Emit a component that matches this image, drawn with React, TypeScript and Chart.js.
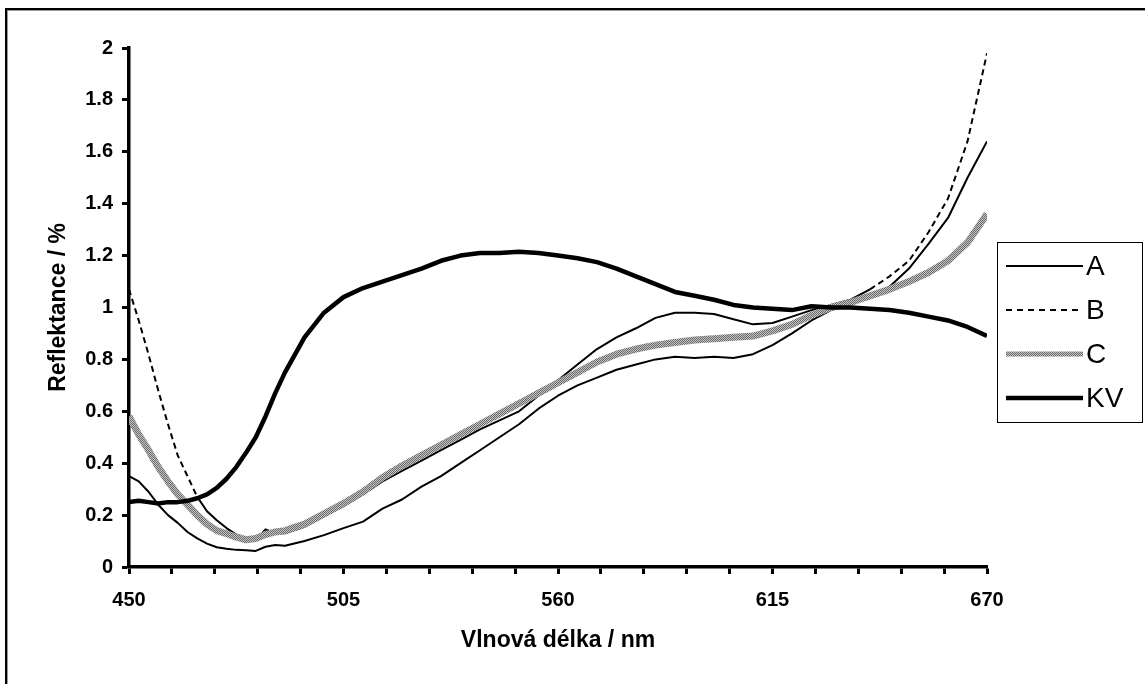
import React, { useEffect, useRef } from 'react';
import { Chart, registerables } from 'chart.js';

Chart.register(...registerables);

// ---- data ----
const WAVELENGTHS = [
  450, 452.5, 455, 457.5, 460, 462.5, 465, 467.5, 470, 472.5, 475, 477.5, 480, 482.5, 485, 487.5, 490,
  495, 500, 505, 510, 515, 520, 525, 530, 535, 540, 545, 550, 555, 560, 565, 570, 575, 580, 585, 590,
  595, 600, 605, 610, 615, 620, 625, 630, 635, 640, 645, 650, 655, 660, 665, 670,
];

const SERIES_A = [
  0.35, 0.33, 0.29, 0.24, 0.2, 0.17, 0.135, 0.11, 0.09, 0.076, 0.07, 0.066, 0.065, 0.062, 0.078, 0.085, 0.082,
  0.1, 0.123, 0.15, 0.175, 0.225, 0.26, 0.31, 0.35, 0.4, 0.45, 0.5, 0.55, 0.61, 0.66, 0.7, 0.73, 0.76, 0.78, 0.8, 0.81,
  0.805, 0.81, 0.805, 0.82, 0.855, 0.9, 0.95, 0.99, 1.01, 1.04, 1.08, 1.15, 1.245, 1.345, 1.5, 1.64,
];

const SERIES_B = [
  1.07, 0.95, 0.82, 0.68, 0.55, 0.43, 0.35, 0.27, 0.215, 0.18, 0.15, 0.125, 0.112, 0.102, 0.145, 0.13, 0.13,
  0.155, 0.195, 0.235, 0.28, 0.33, 0.37, 0.41, 0.45, 0.49, 0.53, 0.565, 0.6, 0.66, 0.72, 0.78, 0.84, 0.885, 0.92, 0.96, 0.98,
  0.98, 0.975, 0.955, 0.935, 0.94, 0.965, 0.99, 1.01, 1.03, 1.07, 1.12, 1.18, 1.29, 1.42, 1.64, 1.98,
];

const SERIES_C = [
  0.58, 0.51, 0.45, 0.385, 0.33, 0.28, 0.24, 0.2, 0.165, 0.14, 0.128, 0.115, 0.105, 0.11, 0.125, 0.135, 0.14,
  0.165, 0.205, 0.245, 0.29, 0.345, 0.39, 0.43, 0.47, 0.51, 0.55, 0.59, 0.63, 0.67, 0.71, 0.75, 0.79, 0.82, 0.84, 0.855, 0.865,
  0.875, 0.88, 0.885, 0.89, 0.91, 0.935, 0.97, 1.0, 1.02, 1.045, 1.07, 1.1, 1.135, 1.18, 1.25, 1.36,
];

const SERIES_KV = [
  0.25, 0.255, 0.25, 0.245, 0.25, 0.25, 0.255, 0.265, 0.28, 0.305, 0.34, 0.385, 0.44, 0.5, 0.58, 0.67, 0.75,
  0.885, 0.98, 1.04, 1.075, 1.1, 1.125, 1.15, 1.18, 1.2, 1.21, 1.21, 1.215, 1.21, 1.2, 1.19, 1.175, 1.15, 1.12, 1.09, 1.06,
  1.045, 1.03, 1.01, 1.0, 0.995, 0.99, 1.005, 1.0, 1.0, 0.995, 0.99, 0.98, 0.965, 0.95, 0.925, 0.89,
];

const SERIES_LABELS = ['A', 'B', 'C', 'KV'];

const X_MIN = 450;
const X_MAX = 670;
const X_MINOR_STEP = 11;
const X_LABEL_STEP = 55;
const Y_MIN = 0;
const Y_MAX = 2;
const Y_STEP = 0.2;

const X_TITLE = 'Vlnová délka / nm';
const Y_TITLE = 'Reflektance / %';

// B looks dashed only where the trace is smooth (start and end)
const B_DASH_BEFORE = 467;
const B_DASH_AFTER = 640;

const FONT = '"Liberation Sans", Arial, Helvetica, sans-serif';

function makeHatch(): CanvasPattern | string {
  const c = document.createElement('canvas');
  c.width = 2;
  c.height = 2;
  const g = c.getContext('2d');
  if (!g) return '#999999';
  g.fillStyle = '#c4c4c4';
  g.fillRect(0, 0, 2, 2);
  g.fillStyle = '#6a6a6a';
  g.fillRect(0, 0, 1, 1);
  g.fillRect(1, 1, 1, 1);
  return g.createPattern(c, 'repeat') || '#999999';
}

const toPoints = (ys: number[]) => WAVELENGTHS.map((x, i) => ({ x, y: ys[i] }));

const boxLegend = {
  id: 'boxLegend',
  afterDraw(chart: any) {
    const ctx = chart.ctx as CanvasRenderingContext2D;
    const left = 997;
    const top = 242;
    const width = 145;
    const height = 180;
    const rowGap = 44;
    ctx.save();
    ctx.fillStyle = '#ffffff';
    ctx.fillRect(left, top, width, height);
    ctx.strokeStyle = '#000000';
    ctx.lineWidth = 1;
    ctx.strokeRect(left + 0.5, top + 0.5, width, height);
    chart.data.datasets.forEach((ds: any, i: number) => {
      const y = top + 24 + i * rowGap;
      ctx.beginPath();
      ctx.moveTo(left + 9, y);
      ctx.lineTo(left + 86, y);
      ctx.strokeStyle = ds.borderColor;
      ctx.lineWidth = ds.legendWidth || ds.borderWidth;
      ctx.setLineDash(ds.legendDash || []);
      ctx.stroke();
      ctx.setLineDash([]);
      ctx.fillStyle = '#000000';
      ctx.font = `28px ${FONT}`;
      ctx.textBaseline = 'middle';
      ctx.textAlign = 'left';
      ctx.fillText(ds.label, left + 89, y + 1);
    });
    ctx.restore();
  },
};

export default function App() {
  const canvasRef = useRef<HTMLCanvasElement | null>(null);

  useEffect(() => {
    if (!canvasRef.current) return;
    const hatch = makeHatch();
    const chart = new Chart(canvasRef.current, {
      type: 'line',
      data: {
        datasets: [
          {
            label: SERIES_LABELS[0],
            data: toPoints(SERIES_A),
            borderColor: '#000000',
            borderWidth: 2,
            pointRadius: 0,
            order: 3,
          } as any,
          {
            label: SERIES_LABELS[1],
            data: toPoints(SERIES_B),
            borderColor: '#000000',
            borderWidth: 2,
            pointRadius: 0,
            order: 2,
            legendDash: [6, 5],
            segment: {
              borderDash: (ctx: any) =>
                ctx.p0.parsed.x < B_DASH_BEFORE || ctx.p0.parsed.x >= B_DASH_AFTER ? [6, 4] : [],
            },
          } as any,
          {
            label: SERIES_LABELS[2],
            data: toPoints(SERIES_C),
            borderColor: hatch,
            borderWidth: 7,
            legendWidth: 5,
            pointRadius: 0,
            order: 1,
          } as any,
          {
            label: SERIES_LABELS[3],
            data: toPoints(SERIES_KV),
            borderColor: '#000000',
            borderWidth: 4.5,
            pointRadius: 0,
            order: 0,
          } as any,
        ],
      },
      options: {
        animation: false,
        responsive: false,
        devicePixelRatio: 1,
        events: [],
        layout: { padding: { left: 0, right: 158, top: 48, bottom: 0 } },
        plugins: {
          legend: { display: false },
          tooltip: { enabled: false },
          title: { display: false },
        },
        elements: { line: { tension: 0, borderJoinStyle: 'round', borderCapStyle: 'butt' } },
        scales: {
          x: {
            type: 'linear',
            min: X_MIN,
            max: X_MAX,
            afterFit: (scale: any) => {
              scale.height = 117;
            },
            ticks: {
              stepSize: X_MINOR_STEP,
              autoSkip: false,
              maxRotation: 0,
              padding: 14,
              color: '#000000',
              font: { family: FONT, size: 20, weight: 'bold' },
              callback: (v: any) => ((Number(v) - X_MIN) % X_LABEL_STEP === 0 ? String(v) : ''),
            },
            grid: {
              display: true,
              drawOnChartArea: false,
              drawTicks: true,
              tickLength: 7,
              tickWidth: 3,
              tickColor: '#000000',
              color: '#000000',
            },
            border: { display: true, color: '#000000', width: 3.5 },
            title: {
              display: true,
              text: X_TITLE,
              color: '#000000',
              font: { family: FONT, size: 23, weight: 'bold' },
              padding: { top: 0, bottom: 30 },
            },
          },
          y: {
            type: 'linear',
            min: Y_MIN,
            max: Y_MAX,
            afterFit: (scale: any) => {
              scale.width = 129;
            },
            ticks: {
              stepSize: Y_STEP,
              padding: 9,
              color: '#000000',
              font: { family: FONT, size: 20, weight: 'bold' },
              callback: (v: any) => String(Number(Number(v).toFixed(1))),
            },
            grid: {
              display: true,
              drawOnChartArea: false,
              drawTicks: true,
              tickLength: 7,
              tickWidth: 3,
              tickColor: '#000000',
              color: '#000000',
            },
            border: { display: true, color: '#000000', width: 3.5 },
            title: {
              display: true,
              text: Y_TITLE,
              color: '#000000',
              font: { family: FONT, size: 23, weight: 'bold' },
              padding: { top: 45, bottom: 0 },
            },
          },
        },
      },
      plugins: [boxLegend],
    });
    return () => chart.destroy();
  }, []);

  return (
    <div
      style={{
        position: 'fixed',
        left: 0,
        top: 0,
        width: 1145,
        height: 684,
        overflow: 'hidden',
        background: '#ffffff',
      }}
    >
      <div
        style={{
          position: 'absolute',
          left: 5,
          top: 8,
          width: 1300,
          height: 800,
          borderTop: '2px solid #000000',
          borderLeft: '2px solid #000000',
          boxShadow: 'inset 1px 1px 0 #9a9a9a',
        }}
      />
      <canvas
        ref={canvasRef}
        width={1145}
        height={684}
        style={{ position: 'absolute', left: 0, top: 0, width: 1145, height: 684 }}
      />
    </div>
  );
}
